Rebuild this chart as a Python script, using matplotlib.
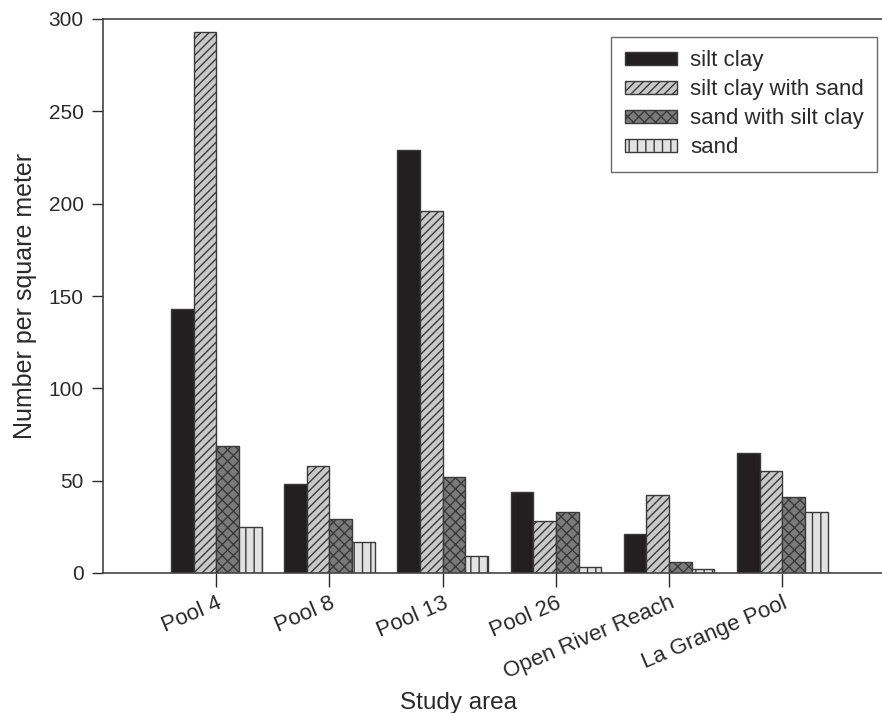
import matplotlib
matplotlib.use("Agg")
import matplotlib.pyplot as plt
import numpy as np

plt.rcParams['font.family'] = ['Liberation Sans', 'DejaVu Sans']
plt.rcParams['hatch.linewidth'] = 1.0

areas = ["Pool 4", "Pool 8", "Pool 13", "Pool 26", "Open River Reach", "La Grange Pool"]
series_names = ["silt clay", "silt clay with sand", "sand with silt clay", "sand"]
silt_clay = [143, 48, 229, 44, 21, 65]
silt_clay_with_sand = [293, 58, 196, 28, 42, 55]
sand_with_silt_clay = [69, 29, 52, 33, 6, 41]
sand = [25, 17, 9, 3, 2, 33]
yticks = [0, 50, 100, 150, 200, 250, 300]

series = [silt_clay, silt_clay_with_sand, sand_with_silt_clay, sand]
faces = ["#231f20", "#c8c8c8", "#7b7b7b", "#e2e2e2"]
hatches = [None, "////", "xxx", "||"]
edge = "#3a3a3a"
text_c = "#2a2a2a"

fig = plt.figure(figsize=(8.82, 7.13), dpi=100)
ax = fig.add_axes([103/882, 1-573/713, 1-103/882, (573-19)/713])

x = np.arange(len(areas))
w = 0.2
for i, (vals, fc, h, name) in enumerate(zip(series, faces, hatches, series_names)):
    ax.bar(x + (i - 1.5) * w, vals, width=w, color=fc, edgecolor=edge,
           hatch=h, linewidth=1.0, label=name, zorder=2)

ax.set_xlim(-1.0, 5.88)
ax.set_ylim(0, 300)
ax.set_yticks(yticks)
ax.set_xticks(x)
ax.set_xticklabels(areas, rotation=23, ha='right', rotation_mode='anchor',
                   fontsize=16, color=text_c)
ax.tick_params(axis='y', labelsize=15, colors=text_c, length=8, width=1, direction='out', pad=6)
ax.tick_params(axis='x', length=10, width=1, direction='out', pad=4, colors=text_c)

ax.spines['right'].set_visible(False)
for s in ['left', 'top', 'bottom']:
    ax.spines[s].set_color("#444444")
    ax.spines[s].set_linewidth(1.2)

ax.set_ylabel("Number per square meter", fontsize=18, color=text_c, labelpad=8)
ax.set_xlabel("Study area", fontsize=17.5, color=text_c)
ax.xaxis.set_label_coords((458-103)/779, -0.215)

leg = ax.legend(loc='upper right', bbox_to_anchor=((877-103)/779, 1-(37-19)/554),
                borderaxespad=0, fontsize=16, frameon=True, fancybox=False,
                handlelength=2.34, handleheight=0.59, labelspacing=0.36,
                handletextpad=0.59, borderpad=0.6)
leg.get_frame().set_edgecolor("#444444")
leg.get_frame().set_linewidth(1.0)
for t in leg.get_texts():
    t.set_color(text_c)

fig.savefig("out.png", dpi=100)
